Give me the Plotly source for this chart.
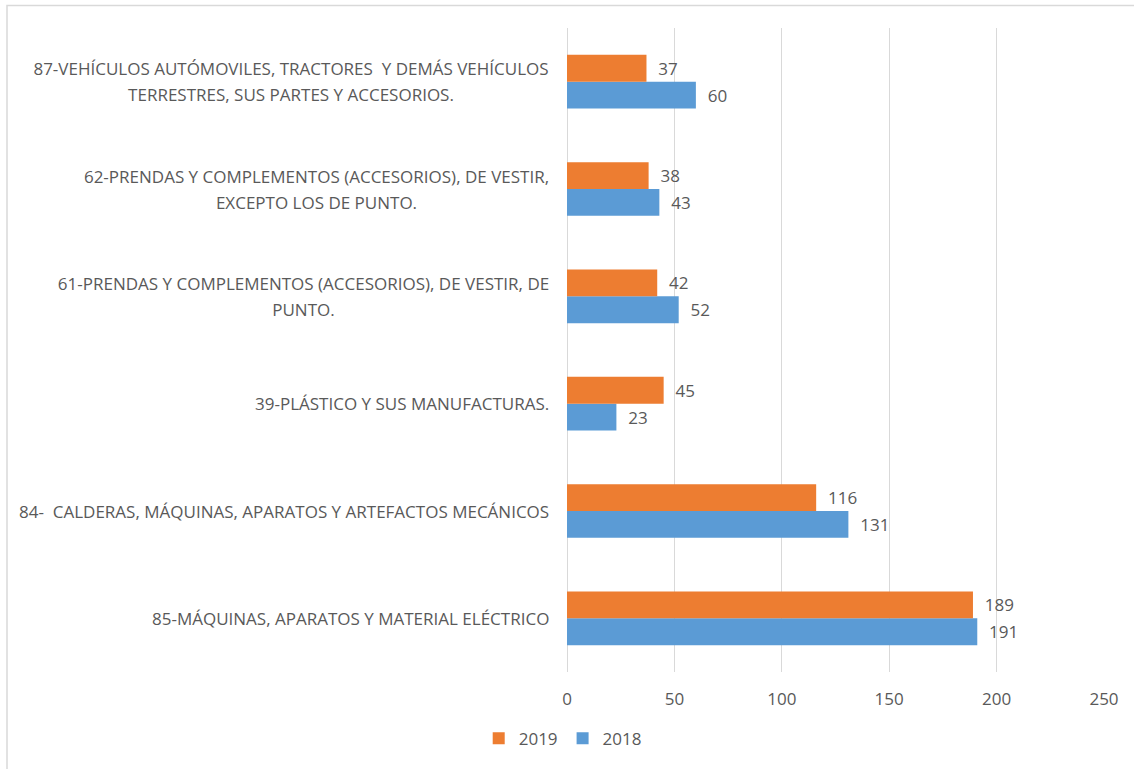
import plotly.graph_objects as go

# Chapter categories, listed bottom to top
categories = [
    "85-MÁQUINAS, APARATOS Y MATERIAL ELÉCTRICO",
    "84-  CALDERAS, MÁQUINAS, APARATOS Y ARTEFACTOS MECÁNICOS",
    "39-PLÁSTICO Y SUS MANUFACTURAS.",
    "61-PRENDAS Y COMPLEMENTOS (ACCESORIOS), DE VESTIR, DE<br>PUNTO.",
    "62-PRENDAS Y COMPLEMENTOS (ACCESORIOS), DE VESTIR,<br>EXCEPTO LOS DE PUNTO.",
    "87-VEHÍCULOS AUTÓMOVILES, TRACTORES  Y DEMÁS VEHÍCULOS<br>TERRESTRES, SUS PARTES Y ACCESORIOS.",
]
values_2018 = [191, 131, 23, 52, 43, 60]
values_2019 = [189, 116, 45, 42, 38, 37]
x_ticks = [0, 50, 100, 150, 200, 250]

FONT = "Open Sans, sans-serif"
FS = 17
TEXT = "#595959"
GRID = "#D9D9D9"
CLEAR = "rgba(0,0,0,0)"
LINE_STEP = 26  # px between the lines of a two-line label
# approximate rendered width (px) of the first line of each two-line label,
# used as a common box so that the second line is centred under the first
FIRST_LINE_WIDTH = {3: 491, 4: 465, 5: 516}

W, H = 1134, 769
ML, MR, MT, MB = 567, 30, 28, 94
pw, ph = W - ML - MR, H - MT - MB

fig = go.Figure()
fig.add_trace(go.Bar(
    y=categories, x=values_2018, name="2018", orientation="h",
    marker=dict(color="#5B9BD5", line=dict(width=0)),
    text=["\u00a0\u00a0" + str(v) for v in values_2018],
    textposition="outside", cliponaxis=False,
    textfont=dict(family=FONT, size=FS, color=TEXT),
))
fig.add_trace(go.Bar(
    y=categories, x=values_2019, name="2019", orientation="h",
    marker=dict(color="#ED7D31", line=dict(width=0)),
    text=["\u00a0\u00a0" + str(v) for v in values_2019],
    textposition="outside", cliponaxis=False,
    textfont=dict(family=FONT, size=FS, color=TEXT),
))


def label(c, text, yshift=0, width=None):
    ann = dict(
        x=0, xref="paper", y=c, yref="y", text=text, showarrow=False,
        xanchor="right", yanchor="middle", xshift=-16, yshift=yshift, align="center",
        font=dict(family=FONT, size=FS, color=TEXT),
    )
    if width:
        ann["width"] = width
    return ann


# Category labels to the left of the plot, one annotation per text line
annotations = []
for idx, c in enumerate(categories):
    lines = c.split("<br>")
    if len(lines) == 1:
        annotations.append(label(c, c))
        continue
    w = FIRST_LINE_WIDTH[idx]
    n = len(lines)
    for i, ln in enumerate(lines):
        shift = ((n - 1) / 2 - i) * LINE_STEP
        annotations.append(label(c, ln, shift, w))

# Outer chart frame
shapes = [dict(
    type="rect", xref="paper", yref="paper",
    x0=(7 - ML) / pw, x1=(W + 5 - ML) / pw,
    y0=-(H + 5 - MT - ph) / ph, y1=1 + (MT - 5.5) / ph,
    line=dict(color="#D9D9D9", width=1.5), fillcolor=CLEAR, layer="below",
)]

fig.update_layout(
    width=W, height=H,
    margin=dict(l=ML, r=MR, t=MT, b=MB, pad=0),
    paper_bgcolor="white", plot_bgcolor="white",
    barmode="group", bargap=0.5, bargroupgap=0,
    font=dict(family=FONT, size=FS, color=TEXT),
    xaxis=dict(
        range=[0, 250], tickvals=x_ticks, showgrid=True, gridcolor=GRID, gridwidth=1,
        zeroline=True, zerolinecolor=GRID, zerolinewidth=1, showline=False,
        ticks="outside", ticklen=12, tickcolor=CLEAR,
        tickfont=dict(family=FONT, size=FS, color=TEXT), fixedrange=True,
    ),
    yaxis=dict(
        showticklabels=False, showgrid=False, zeroline=False, showline=False,
        categoryorder="array", categoryarray=categories,
    ),
    legend=dict(
        orientation="h", x=-0.008, xanchor="center", y=-(742 - MT - ph) / ph, yanchor="middle",
        traceorder="reversed", font=dict(family=FONT, size=FS, color=TEXT),
        itemwidth=30, bgcolor=CLEAR,
    ),
    annotations=annotations, shapes=shapes,
    showlegend=True,
)

fig.write_html("out.html")
